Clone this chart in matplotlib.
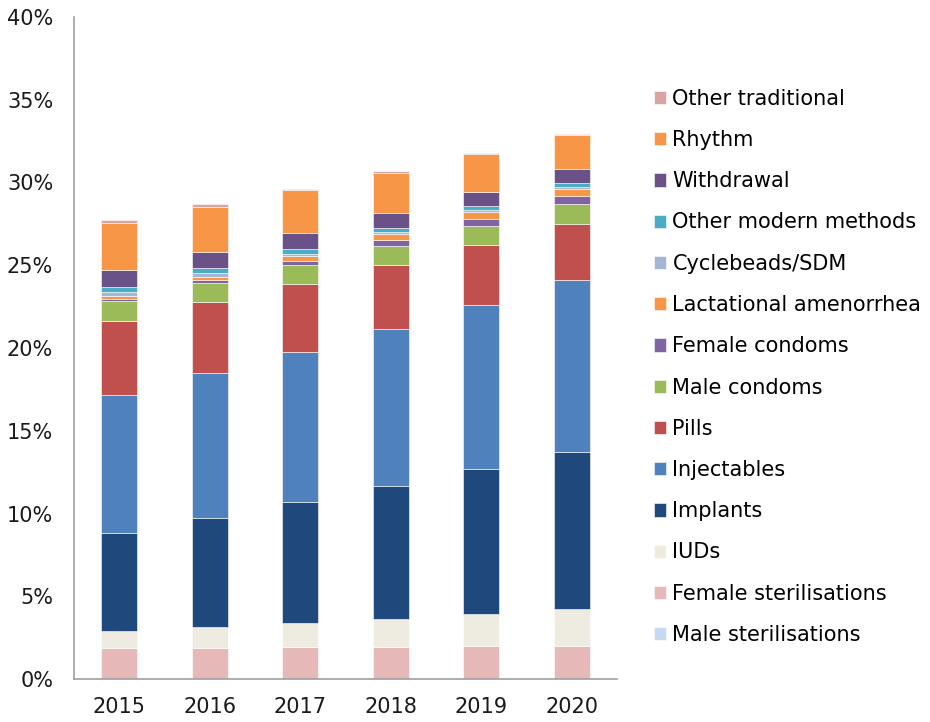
import matplotlib
matplotlib.use('Agg')
import matplotlib.pyplot as plt
import numpy as np
from matplotlib.ticker import FuncFormatter

years = ['2015', '2016', '2017', '2018', '2019', '2020']

# share of women using each method, % (bottom to top of the stack)
male_ster = [0.02, 0.02, 0.02, 0.02, 0.02, 0.02]
female_ster = [1.88, 1.88, 1.92, 1.92, 1.98, 2.00]
iuds = [1.03, 1.25, 1.47, 1.71, 1.92, 2.18]
implants = [5.90, 6.59, 7.26, 7.99, 8.79, 9.54]
injectables = [8.36, 8.73, 9.11, 9.49, 9.89, 10.36]
pills = [4.46, 4.28, 4.06, 3.86, 3.60, 3.40]
male_condoms = [1.22, 1.17, 1.20, 1.20, 1.19, 1.18]
female_condoms = [0.08, 0.16, 0.20, 0.32, 0.43, 0.49]
lactational = [0.20, 0.24, 0.30, 0.35, 0.40, 0.41]
cyclebeads = [0.24, 0.23, 0.16, 0.12, 0.10, 0.12]
other_modern = [0.27, 0.26, 0.30, 0.30, 0.28, 0.30]
withdrawal = [1.03, 1.00, 0.93, 0.90, 0.84, 0.79]
rhythm = [2.85, 2.70, 2.60, 2.40, 2.28, 2.08]
other_trad = [0.20, 0.20, 0.10, 0.10, 0.06, 0.06]

series = [
    ('Male sterilisations', male_ster, '#C6D9F1'),
    ('Female sterilisations', female_ster, '#E6B9B8'),
    ('IUDs', iuds, '#EEECE1'),
    ('Implants', implants, '#1F497D'),
    ('Injectables', injectables, '#4F81BD'),
    ('Pills', pills, '#C0504D'),
    ('Male condoms', male_condoms, '#9BBB59'),
    ('Female condoms', female_condoms, '#8064A2'),
    ('Lactational amenorrhea', lactational, '#F79646'),
    ('Cyclebeads/SDM', cyclebeads, '#A5B6D5'),
    ('Other modern methods', other_modern, '#4BACC6'),
    ('Withdrawal', withdrawal, '#6A5188'),
    ('Rhythm', rhythm, '#F79646'),
    ('Other traditional', other_trad, '#D9A4A4'),
]

plt.rcParams['font.family'] = ['DejaVu Sans']

fig = plt.figure(figsize=(9.3, 7.22), dpi=100)
ax = fig.add_axes([74/930, 43/722, 543/930, 662/722])

x = np.arange(len(years))
bottom = np.zeros(len(years))
for name, vals, col in series:
    ax.bar(x, vals, width=0.4, bottom=bottom, color=col, label=name,
           edgecolor='white', linewidth=0.4)
    bottom += np.array(vals)

ax.set_xlim(-0.5, len(years) - 0.5)
ax.set_ylim(0, 40)
ax.set_yticks(np.arange(0, 41, 5))
ax.yaxis.set_major_formatter(FuncFormatter(lambda v, p: '%d%%' % v))
ax.set_xticks(x)
ax.set_xticklabels(years)
ax.tick_params(axis='both', length=0, labelsize=15, colors='#1a1a1a')
ax.tick_params(axis='x', pad=13)
ax.tick_params(axis='y', pad=15)

for s in ['top', 'right']:
    ax.spines[s].set_visible(False)
for s in ['left', 'bottom']:
    ax.spines[s].set_color('#A0A0A0')
    ax.spines[s].set_linewidth(1.2)

handles, labels = ax.get_legend_handles_labels()
leg = fig.legend(handles[::-1], labels[::-1], loc='upper left',
                 bbox_to_anchor=(635/930, 1 - 70/722), frameon=False,
                 fontsize=15, handlelength=0.6, handleheight=0.6,
                 handletextpad=0.3, labelspacing=1.02)

fig.savefig('out.png', dpi=100)
